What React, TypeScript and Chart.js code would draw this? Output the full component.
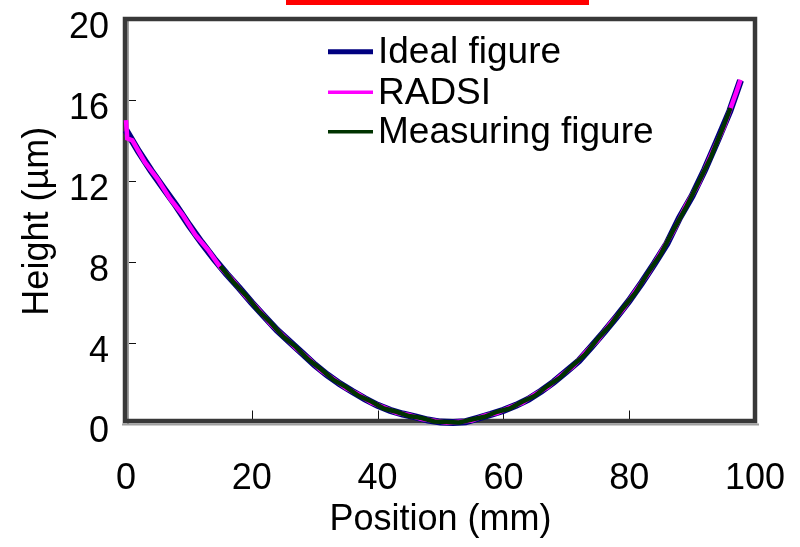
import { useEffect, useRef } from 'react';
import { Chart, registerables } from 'chart.js';

Chart.register(...registerables);

// ---- data ----
const seriesNames = ['Ideal figure', 'RADSI', 'Measuring figure'];

const idealX = [0, 2, 4, 6, 8, 10, 12, 14, 16, 18, 20, 22, 24, 26, 28, 30, 32, 34, 36, 38, 40, 42, 44, 46, 48, 50, 52, 54, 56, 58, 60, 62, 64, 66, 68, 70, 72, 74, 76, 78, 80, 82, 84, 86, 88, 90, 92, 94, 96, 97.7];
const idealY = [14.5, 13.45, 12.5, 11.62, 10.75, 9.82, 8.95, 8.14, 7.39, 6.7, 5.97, 5.29, 4.62, 4.05, 3.48, 2.9, 2.4, 1.96, 1.58, 1.22, 0.9, 0.65, 0.47, 0.33, 0.17, 0.07, 0.05, 0.09, 0.27, 0.45, 0.65, 0.9, 1.2, 1.6, 2.05, 2.57, 3.1, 3.8, 4.52, 5.28, 6.07, 6.96, 7.9, 8.9, 10.17, 11.25, 12.55, 13.98, 15.45, 16.97];

const radsiX = [0, 0.2, 1, 3, 5, 7, 9, 11, 13, 15, 17, 19, 21, 23, 25, 27, 29, 31, 33, 35, 37, 39, 41, 43, 45, 47, 49, 51, 53, 55, 57, 59, 61, 63, 65, 67, 69, 71, 73, 75, 77, 79, 81, 83, 85, 87, 89, 91, 93, 95, 97, 97.7];
const radsiY = [15.0, 14.1, 14.0, 12.92, 12.1, 11.12, 10.32, 9.34, 8.6, 7.72, 7.08, 6.3, 5.66, 4.92, 4.35, 3.73, 3.22, 2.62, 2.2, 1.74, 1.43, 1.03, 0.8, 0.53, 0.42, 0.22, 0.14, 0.04, 0.09, 0.15, 0.39, 0.52, 0.8, 1.02, 1.44, 1.78, 2.34, 2.8, 3.5, 4.12, 4.95, 5.63, 6.55, 7.4, 8.45, 9.48, 10.76, 11.83, 13.28, 14.62, 16.35, 17.0];

const measX = [15, 17, 19, 21, 23, 25, 27, 29, 31, 33, 35, 37, 39, 41, 43, 45, 47, 49, 51, 53, 55, 57, 59, 61, 63, 65, 67, 69, 71, 73, 75, 77, 79, 81, 83, 85, 87, 89, 91, 93, 95, 96.1];
const measY = [7.78, 7.02, 6.36, 5.6, 4.98, 4.3, 3.79, 3.16, 2.68, 2.15, 1.8, 1.37, 1.09, 0.74, 0.58, 0.37, 0.27, 0.1, 0.08, 0.05, 0.2, 0.33, 0.58, 0.74, 1.08, 1.37, 1.85, 2.27, 2.86, 3.42, 4.19, 4.87, 5.7, 6.47, 7.46, 8.37, 9.55, 10.67, 11.9, 13.18, 14.7, 15.6];

const xTickValues = [20, 40, 60, 80];
const yTickValues = [4, 8, 12, 16];
const xAxisTitle = 'Position (mm)';
const yAxisTitle = 'Height (\u00b5m)';

const FONT = '"Liberation Sans", Arial, Helvetica, sans-serif';

const toPoints = (xs: number[], ys: number[]) => xs.map((x, i) => ({ x, y: ys[i] }));

const zeroPadding = (scale: any) => {
  scale.paddingTop = 0;
  scale.paddingBottom = 0;
  scale.paddingLeft = 0;
  scale.paddingRight = 0;
};

const framePlugin = {
  id: 'frame',
  beforeDatasetsDraw(chart: any) {
    const { ctx, chartArea: a, scales } = chart;
    ctx.save();
    // inside tick marks
    ctx.strokeStyle = '#111';
    ctx.lineWidth = 1;
    ctx.beginPath();
    xTickValues.forEach((v) => {
      const px = Math.round(scales.x.getPixelForValue(v)) + 0.5;
      ctx.moveTo(px, a.bottom - 3);
      ctx.lineTo(px, a.bottom - 13);
    });
    yTickValues.forEach((v) => {
      const py = Math.round(scales.y.getPixelForValue(v)) + 0.5;
      ctx.moveTo(a.left + 2, py);
      ctx.lineTo(a.left + 10, py);
    });
    ctx.stroke();
    // light shadow lines
    ctx.strokeStyle = '#a0a0a0';
    ctx.lineWidth = 2;
    ctx.beginPath();
    ctx.moveTo(a.left + 2, a.top + 2);
    ctx.lineTo(a.left + 2, a.bottom);
    ctx.moveTo(a.left - 4, a.bottom + 1);
    ctx.lineTo(a.right + 4, a.bottom + 1);
    ctx.stroke();
    // dark frame
    ctx.strokeStyle = '#383838';
    ctx.lineWidth = 4.5;
    ctx.strokeRect(a.left - 1, a.top, a.right - a.left + 1, a.bottom - 2.5 - a.top);
    ctx.restore();
  },
  afterDraw(chart: any) {
    const { ctx } = chart;
    ctx.save();
    // red band at top
    ctx.fillStyle = '#ff0000';
    ctx.fillRect(286, 0, 303, 5);
    // legend
    const rows = [51.7, 92.3, 131.8];
    const widths = [5, 3.5, 3.5];
    ctx.font = `37px ${FONT}`;
    ctx.textBaseline = 'middle';
    ctx.textAlign = 'left';
    chart.data.datasets.forEach((ds: any, i: number) => {
      ctx.strokeStyle = ds.borderColor;
      ctx.lineWidth = widths[i];
      ctx.beginPath();
      ctx.moveTo(328, rows[i]);
      ctx.lineTo(373, rows[i]);
      ctx.stroke();
      ctx.fillStyle = '#000';
      ctx.fillText(ds.label, 378, rows[i] + 1);
    });
    ctx.restore();
  },
};

export default function App() {
  const ref = useRef<HTMLCanvasElement | null>(null);

  useEffect(() => {
    if (!ref.current) return;
    const chart = new Chart(ref.current, {
      type: 'line',
      data: {
        datasets: [
          {
            label: seriesNames[0],
            data: toPoints(idealX, idealY),
            borderColor: '#000080',
            borderWidth: 7,
            pointRadius: 0,
            tension: 0,
            order: 3,
            clip: 10,
          },
          {
            label: seriesNames[1],
            data: toPoints(radsiX, radsiY),
            borderColor: '#ff00ff',
            borderWidth: 4.5,
            pointRadius: 0,
            tension: 0,
            order: 2,
            clip: 10,
          },
          {
            label: seriesNames[2],
            data: toPoints(measX, measY),
            borderColor: '#003300',
            borderWidth: 4.5,
            pointRadius: 0,
            tension: 0,
            order: 1,
            clip: 10,
          },
        ],
      },
      options: {
        responsive: false,
        animation: false,
        devicePixelRatio: 1,
        layout: { padding: { top: 19, right: 45, left: 0, bottom: 0 } },
        plugins: { legend: { display: false }, tooltip: { enabled: false } },
        scales: {
          x: {
            type: 'linear',
            min: 0,
            max: 100,
            ticks: {
              stepSize: 20,
              color: '#000',
              font: { family: FONT, size: 36 },
              padding: 34,
            },
            grid: { display: false, drawTicks: false },
            border: { display: false },
            title: {
              display: true,
              text: xAxisTitle,
              color: '#000',
              font: { family: FONT, size: 36 },
              padding: { top: 0, bottom: 5 },
            },
            afterFit(scale: any) {
              scale.height = 123.5;
              zeroPadding(scale);
            },
          },
          y: {
            type: 'linear',
            min: 0,
            max: 20,
            ticks: {
              stepSize: 4,
              color: '#000',
              font: { family: FONT, size: 36 },
              padding: 17,
              labelOffset: 9,
            },
            grid: { display: false, drawTicks: false },
            border: { display: false },
            title: {
              display: true,
              text: yAxisTitle,
              color: '#000',
              font: { family: FONT, size: 36 },
              padding: { top: 16, bottom: 0 },
            },
            afterFit(scale: any) {
              scale.width = 126;
              zeroPadding(scale);
            },
          },
        },
      },
      plugins: [framePlugin],
    });
    return () => chart.destroy();
  }, []);

  return (
    <div style={{ position: 'absolute', left: 0, top: 0, width: 800, height: 547, background: '#fff' }}>
      <canvas ref={ref} width={800} height={547} style={{ display: 'block' }} />
    </div>
  );
}
